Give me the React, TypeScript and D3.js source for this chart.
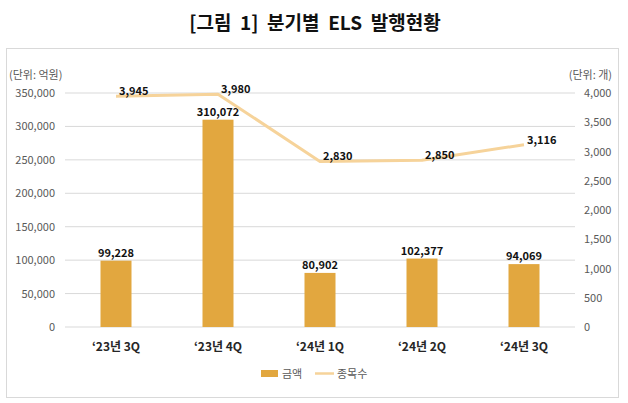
import React from "react";
import * as d3 from "d3";

const categories = ["‘23년 3Q", "‘23년 4Q", "‘24년 1Q", "‘24년 2Q", "‘24년 3Q"];
const amounts = [99228, 310072, 80902, 102377, 94069];
const counts = [3945, 3980, 2830, 2850, 3116];
const leftTicks = [0, 50000, 100000, 150000, 200000, 250000, 300000, 350000];
const rightTicks = [0, 500, 1000, 1500, 2000, 2500, 3000, 3500, 4000];

const W = 628;
const H = 403;
const plot = { left: 65, right: 575, top: 93, bottom: 327 };
const font = "'Noto Sans CJK KR', 'Noto Sans', sans-serif";

export default function App() {
  const x = d3.scaleBand<string>().domain(categories).range([plot.left, plot.right]).paddingInner(0).paddingOuter(0);
  const yL = d3.scaleLinear().domain([0, 350000]).range([plot.bottom, plot.top]);
  const yR = d3.scaleLinear().domain([0, 4000]).range([plot.bottom, plot.top]);
  const fmt = d3.format(",");
  const barW = 31;
  const cx = (c: string) => (x(c) as number) + x.bandwidth() / 2;
  const line = d3
    .line<number>()
    .x((_, i) => cx(categories[i]))
    .y((d) => yR(d));

  return (
    <svg width={W} height={H} style={{ position: "absolute", left: 0, top: 0 }} fontFamily={font}>
      <rect x={0} y={0} width={W} height={H} fill="#fff" />
      <text x={315} y={30} textAnchor="middle" fontSize={19} fontWeight={700} fill="#111" style={{ whiteSpace: "pre" }}>
        {"[그림  1]  분기별  ELS  발행현황"}
      </text>
      <rect x={6.5} y={48.5} width={612} height={349} fill="#fff" stroke="#D9D9D9" strokeWidth={1} />
      <text x={9} y={79} fontSize={11} fill="#595959">(단위: 억원)</text>
      <text x={612} y={79} fontSize={11} fill="#595959" textAnchor="end">(단위: 개)</text>
      {leftTicks.map((t) => (
        <g key={t}>
          <line x1={plot.left} x2={plot.right} y1={yL(t)} y2={yL(t)} stroke="#D9D9D9" strokeWidth={1} />
          <text x={55} y={yL(t) + 4} textAnchor="end" fontSize={11} fill="#595959">
            {fmt(t)}
          </text>
        </g>
      ))}
      {rightTicks.map((t) => (
        <text key={t} x={584} y={yR(t) + 4} fontSize={11} fill="#595959">
          {fmt(t)}
        </text>
      ))}
      {categories.map((c, i) => (
        <g key={c}>
          <rect x={cx(c) - barW / 2} y={yL(amounts[i])} width={barW} height={plot.bottom - yL(amounts[i])} fill="#E2A73F" />
          <text x={cx(c)} y={yL(amounts[i]) - 4} textAnchor="middle" fontSize={11} fontWeight={700} fill="#111">
            {fmt(amounts[i])}
          </text>
          <text x={cx(c)} y={351} textAnchor="middle" fontSize={12} fontWeight={700} fill="#262626">
            {c}
          </text>
        </g>
      ))}
      <path d={line(counts) || ""} fill="none" stroke="#F6D39A" strokeWidth={3} strokeLinejoin="round" />
      {counts.map((v, i) => (
        <text key={i} x={cx(categories[i]) + 3} y={yR(v) - 1} fontSize={11} fontWeight={700} fill="#111">
          {fmt(v)}
        </text>
      ))}
      <rect x={261} y={370} width={17} height={7} fill="#E2A73F" />
      <text x={282} y={378} fontSize={11} fill="#595959">금액</text>
      <line x1={315} x2={334} y1={373.5} y2={373.5} stroke="#F6D39A" strokeWidth={2.5} />
      <text x={337} y={378} fontSize={11} fill="#595959">종목수</text>
    </svg>
  );
}
